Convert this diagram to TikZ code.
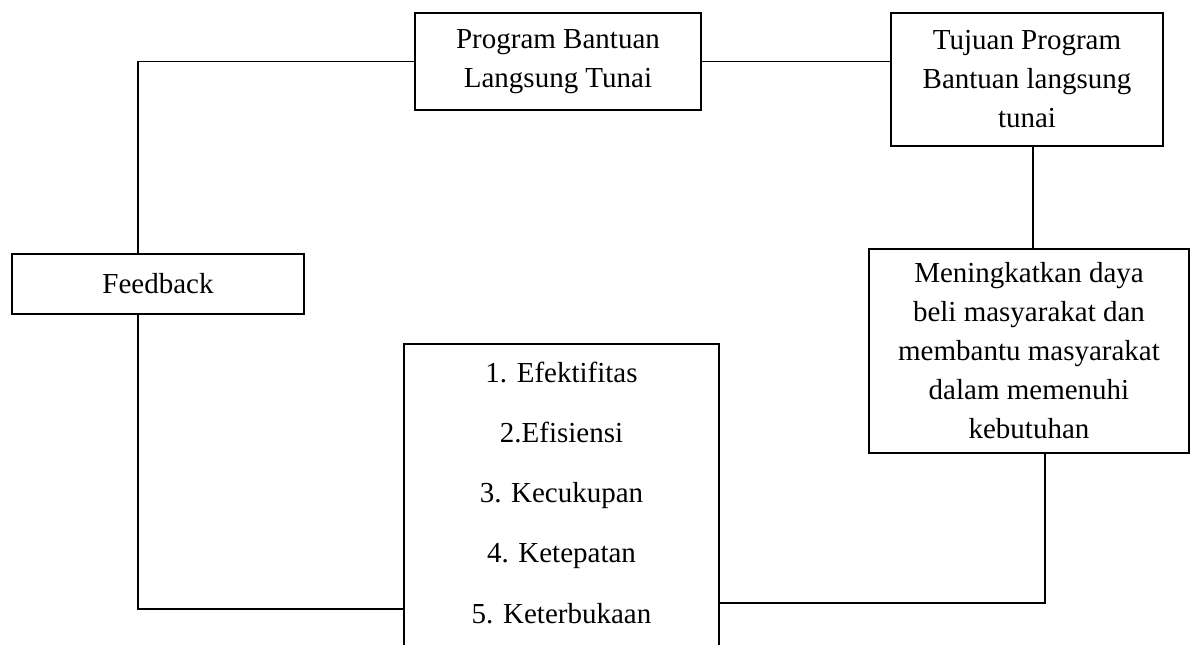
\documentclass[tikz,border=0pt]{standalone}
\usepackage{fontspec}
\setmainfont{Liberation Serif}
\begin{document}
\begin{tikzpicture}[x=1pt,y=-1pt,
  box/.style={draw,line width=1.7pt,inner sep=0pt,align=center,font=\fontsize{29}{39}\selectfont},
  txt/.style={inner sep=0pt,text height=20pt,text depth=7pt,font=\fontsize{29}{39}\selectfont},
  conn/.style={line width=1.7pt}]
\useasboundingbox (0,0) rectangle (1192,645);
\fill[white] (0,0) rectangle (1192,645);
\node[box,minimum width=286pt,minimum height=97pt] (prog) at (558,61.5) {Program Bantuan\\Langsung Tunai};
\node[box,minimum width=272pt,minimum height=133pt] (tuj) at (1027,79.5) {Tujuan Program\\Bantuan langsung\\tunai};
\node[box,minimum width=292pt,minimum height=60pt] (feed) at (158,284) {Feedback};
\node[box,minimum width=320pt,minimum height=204pt] (mening) at (1029,351) {Meningkatkan daya\\beli masyarakat dan\\membantu masyarakat\\dalam memenuhi\\kebutuhan};
\node[inner sep=0pt,minimum width=315pt,minimum height=320pt] (list) at (561.5,504) {};
\draw[conn] (list.south west) -- (list.north west) -- (list.north east) -- (list.south east);
\node[txt] (l1) at (561.5,376) {1. Efektifitas};
\node[txt] (l2) at (561.5,436) {2.Efisiensi};
\node[txt] (l3) at (561.5,496) {3. Kecukupan};
\node[txt] (l4) at (561.5,556) {4. Ketepatan};
\node[txt] (l5) at (561.5,617) {5. Keterbukaan};
% connectors
\draw[conn] ([xshift=127pt]feed.north west) |- (prog.west);
\draw[conn] (prog.east) -- (prog.east -| tuj.west);
\draw[conn] ([xshift=6pt]tuj.south) -- ([xshift=6pt]tuj.south |- mening.north);
\draw[conn] ([xshift=16pt]mening.south) |- ([yshift=-259pt]list.north east);
\draw[conn] ([xshift=127pt]feed.south west) |- ([yshift=-265pt]list.north west);
\end{tikzpicture}
\end{document}
